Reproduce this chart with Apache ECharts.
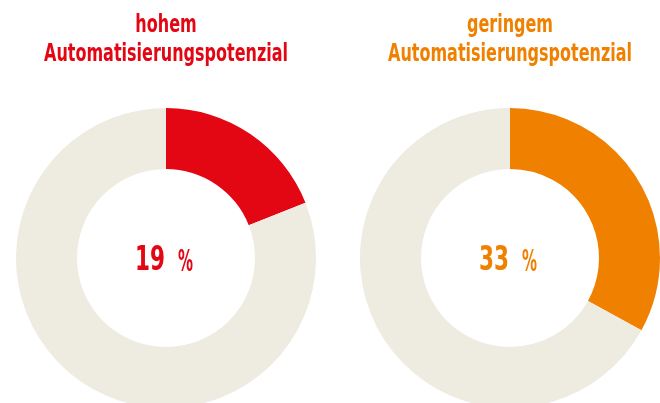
<!DOCTYPE html>
<html>
<head>
<meta charset="utf-8">
<script src="https://cdn.jsdelivr.net/npm/echarts@6/dist/echarts.min.js"></script>
<style>
html,body{margin:0;padding:0;background:#fff;}
#main{width:660px;height:403px;}
</style>
</head>
<body>
<div id="main"></div>
<script>
var headLine1 = ['hohem', 'geringem'];
var headLine2 = ['Automatisierungspotenzial', 'Automatisierungspotenzial'];
var shares = [19, 33]; // Anteil in %
var rest = [81, 67];
var colors = ['#e30613', '#f08000'];
var ringColor = '#eeebe0';
var centersX = [166, 510];
var fam = '"DejaVu Sans Condensed", sans-serif';

// schmale Schrift nachbilden: Breite messen und horizontal stauchen
var ctx = document.createElement('canvas').getContext('2d');
function textWidth(txt, size){
	ctx.font = 'bold ' + size + 'px ' + fam;
	return ctx.measureText(txt).width;
}
var headSize = 24;
var headScale = 244 / textWidth(headLine2[0], headSize);
var numSize = 34, pctSize = 30;

var myChart = echarts.init(document.getElementById('main'));
var graphics = [], series = [];
for (var i = 0; i < shares.length; i++) {
	var cx = centersX[i];
	graphics.push({
		type: 'text', x: cx, y: 14, scaleX: headScale, silent: true,
		style: {text: headLine1[i], fill: colors[i], font: 'bold ' + headSize + 'px ' + fam, align: 'center', verticalAlign: 'top'}
	});
	graphics.push({
		type: 'text', x: cx, y: 43, scaleX: headScale, silent: true,
		style: {text: headLine2[i], fill: colors[i], font: 'bold ' + headSize + 'px ' + fam, align: 'center', verticalAlign: 'top'}
	});
	var numW = textWidth(String(shares[i]), numSize);
	graphics.push({
		type: 'text', x: cx - 1, y: 244, scaleX: 30 / numW, silent: true,
		style: {text: String(shares[i]), fill: colors[i], font: 'bold ' + numSize + 'px ' + fam, align: 'right', verticalAlign: 'top'}
	});
	graphics.push({
		type: 'text', x: cx + 12, y: 248, scaleX: 15 / textWidth('%', pctSize), silent: true,
		style: {text: '%', fill: colors[i], font: 'bold ' + pctSize + 'px ' + fam, align: 'left', verticalAlign: 'top'}
	});
	series.push({
		type: 'pie',
		center: [cx, 258],
		radius: [89, 150],
		startAngle: 90,
		clockwise: true,
		silent: true,
		animation: false,
		label: {show: false},
		labelLine: {show: false},
		data: [
			{value: shares[i], itemStyle: {color: colors[i]}},
			{value: rest[i], itemStyle: {color: ringColor}}
		]
	});
}
myChart.setOption({
	graphic: graphics,
	series: series
});
</script>
</body>
</html>
